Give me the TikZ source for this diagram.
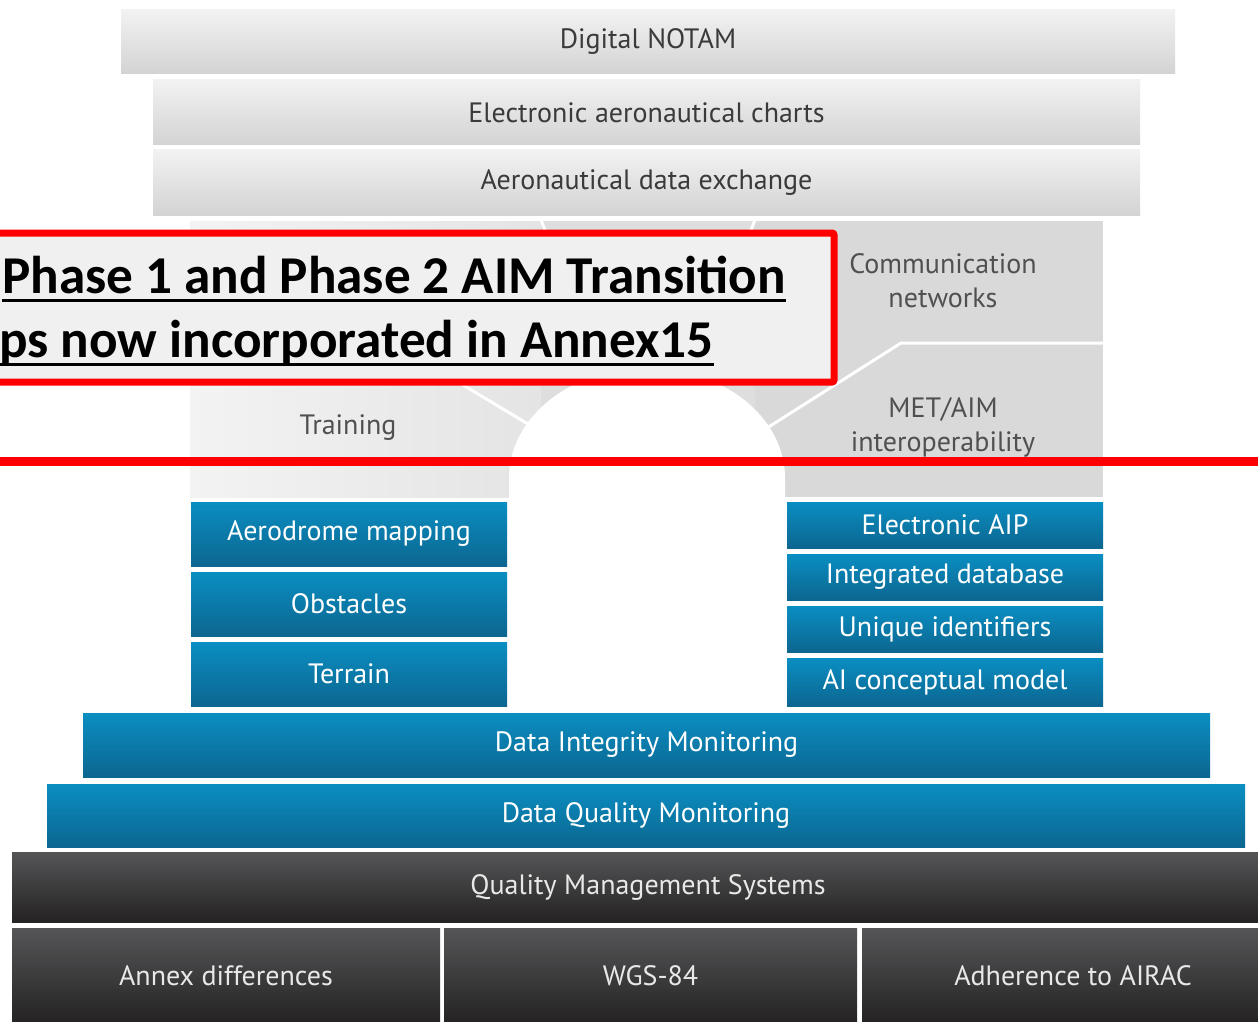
\documentclass[tikz,border=0pt]{standalone}
\usepackage{fontspec}
\setmainfont{PT Sans}
\newfontfamily\calib{Carlito}
\definecolor{gtop}{HTML}{F2F2F2}
\definecolor{gbot}{HTML}{D3D3D3}
\definecolor{gtext}{HTML}{3A3A3A}
\definecolor{btop}{RGB}{10,142,194}
\definecolor{bbot}{RGB}{12,102,144}
\definecolor{dtop}{HTML}{555557}
\definecolor{dbot}{HTML}{242223}
\definecolor{dtext}{HTML}{E8E8E8}
\definecolor{alabel}{HTML}{505050}
\definecolor{boxfill}{HTML}{F0F0F0}
\definecolor{archL}{HTML}{F3F3F3}
\definecolor{archLR}{HTML}{E4E4E4}
\definecolor{archM}{HTML}{DEDEDE}
\definecolor{archR}{HTML}{D9D9D9}
\definecolor{redline}{RGB}{255,0,0}
\begin{document}
\begin{tikzpicture}[x=1pt,y=-1pt]
\tikzset{
  box/.style={inner sep=0pt, outer sep=0pt, font=\fontsize{28}{32}\selectfont},
  graybox/.style={box, top color=gtop, bottom color=gbot, text=gtext},
  bluebox/.style={box, top color=btop, bottom color=bbot, text=white},
  darkbox/.style={box, top color=dtop, bottom color=dbot, text=dtext},
  archlabel/.style={inner sep=0pt, font=\fontsize{28}{34}\selectfont, text=alabel, align=center},
  sepline/.style={white, line width=3pt},
  redtext/.style={inner sep=0pt, anchor=base west, font=\calib\bfseries\fontsize{53.2}{60}\selectfont, text=black},
  uline/.style={black, line width=3pt},
}
\useasboundingbox (0,0) rectangle (1258,1022);
\clip (0,0) rectangle (1258,1022);
\fill[white] (0,0) rectangle (1258,1022);

% top gray bands
\node[graybox, minimum width=1054pt, minimum height=64pt] (notam) at (648,42) {Digital NOTAM};
\node[graybox, minimum width=987pt, minimum height=65pt] (charts) at (646.5,112.5) {Electronic aeronautical charts};
\node[graybox, minimum width=987pt, minimum height=65pt] (adx) at (646.5,182.5) {Aeronautical data exchange};

% arch block
\shade[left color=archL, right color=archLR] (190,220) rectangle (541,497);
\fill[archM] (541,220) rectangle (755,497);
\fill[archR] (755,220) rectangle (1103,497);
\coordinate (kl) at (541,220);
\coordinate (kr) at (755,220);
\coordinate (al) at (528,424);
\coordinate (ar) at (767,428);
\coordinate (cl) at (393,343);
\coordinate (cr) at (901,343);
\draw[sepline] (kl) -- (562,272);
\draw[sepline] (kr) -- (734,272);
\draw[sepline] (al) -- (cl) -- (190,343);
\draw[sepline] (ar) -- (cr) -- (1103,343);
\fill[white] (509,498) -- (509,478) arc[start angle=180, end angle=360, x radius=138, y radius=110] -- (785,498) -- cycle;
\draw[white, line width=1pt] (190,220) -- (1103,220);

\node[archlabel] (train) at (348,428) {Training};
\node[archlabel] (comm) at (943,281) {Communication\\networks};
\node[archlabel] (met) at (943,427) {MET/AIM\\interoperability};

% blue boxes
\node[bluebox, minimum width=316pt, minimum height=64pt] (aero) at (349,534) {Aerodrome mapping};
\node[bluebox, minimum width=316pt, minimum height=64pt] (obst) at (349,604) {Obstacles};
\node[bluebox, minimum width=316pt, minimum height=64pt] (terr) at (349,674) {Terrain};
\node[bluebox, minimum width=316pt, minimum height=46pt] (eaip) at (945,525) {Electronic AIP};
\node[bluebox, minimum width=316pt, minimum height=46pt] (idb) at (945,577) {Integrated database};
\node[bluebox, minimum width=316pt, minimum height=46pt] (uid) at (945,629) {Unique identifiers};
\node[bluebox, minimum width=316pt, minimum height=48pt] (aicm) at (945,682) {AI conceptual model};
\node[bluebox, minimum width=1127pt, minimum height=64pt] (dim) at (646.5,745) {Data Integrity Monitoring};
\node[bluebox, minimum width=1198pt, minimum height=63pt] (dqm) at (646,815.5) {Data Quality Monitoring};

% dark boxes
\node[darkbox, minimum width=1272pt, minimum height=70pt] (qms) at (648,887) {Quality Management Systems};
\node[darkbox, minimum width=428pt, minimum height=96pt] (annex) at (226,976) {Annex differences};
\node[darkbox, minimum width=413pt, minimum height=96pt] (wgs) at (650.5,976) {WGS-84};
\node[darkbox, minimum width=422pt, minimum height=96pt] (airac) at (1073,976) {Adherence to AIRAC};

% red overlay
\draw[redline, line width=7pt, fill=boxfill, rounded corners=2pt] (-20,233) rectangle (834,382);
\node[redtext] (t1) at (2,293) {Phase 1 and Phase 2 AIM Transition};
\node[redtext] (t2) at (-1,357) {ps now incorporated in Annex15};
\draw[uline] ([yshift=-7pt]t1.base west) -- ([yshift=-7pt]t1.base east);
\draw[uline] ([yshift=-7pt]t2.base west) -- ([yshift=-7pt]t2.base east);
\coordinate (rl) at (-10,461);
\coordinate (rr) at (1270,461);
\draw[redline, line width=9pt] (rl) -- (rr);
\end{tikzpicture}
\end{document}
